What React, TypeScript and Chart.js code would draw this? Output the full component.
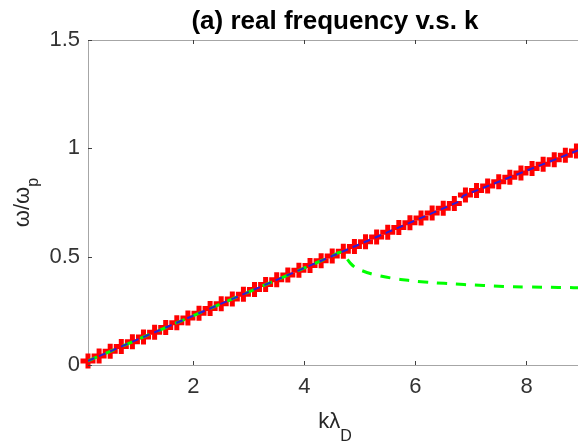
import React, { useEffect, useRef } from "react";
import { Chart, registerables } from "chart.js";

Chart.register(...registerables);

const FONT = '"Liberation Sans", Arial, sans-serif';

const titleText = "(a) real frequency v.s. k";
const xTicks = [2, 4, 6, 8];
const yTicks = [0, 0.5, 1, 1.5];
const xMin = 0.1;
const xMax = 9;
const yMin = 0;
const yMax = 1.5;

// red "+" markers (simulation)
const kRed = [
  0.1, 0.3, 0.5, 0.7, 0.9, 1.1, 1.3, 1.5, 1.7, 1.9, 2.1, 2.3, 2.5, 2.7, 2.9,
  3.1, 3.3, 3.5, 3.7, 3.9, 4.1, 4.3, 4.5, 4.7, 4.9, 5.1, 5.3, 5.5, 5.7, 5.9,
  6.1, 6.3, 6.5, 6.7, 6.9, 7.1, 7.3, 7.5, 7.7, 7.9, 8.1, 8.3, 8.5, 8.7, 8.9,
];
const wRed = [
  0.019, 0.041, 0.063, 0.085, 0.107, 0.129, 0.151, 0.173, 0.195, 0.217, 0.239,
  0.261, 0.283, 0.305, 0.327, 0.349, 0.371, 0.393, 0.415, 0.437, 0.459, 0.481,
  0.503, 0.525, 0.547, 0.569, 0.591, 0.613, 0.635, 0.657, 0.679, 0.701, 0.723,
  0.745, 0.785, 0.805, 0.826, 0.846, 0.866, 0.886, 0.907, 0.927, 0.947, 0.968,
  0.988,
];

// blue dashed line (theory)
const kBlue = [
  0.1, 0.5, 1, 1.5, 2, 2.5, 3, 3.5, 4, 4.5, 5, 5.5, 6, 6.5, 6.78, 6.86, 7.5, 8,
  8.5, 9,
];
const wBlue = [
  0.019, 0.063, 0.118, 0.173, 0.228, 0.283, 0.338, 0.393, 0.448, 0.503, 0.558,
  0.613, 0.668, 0.723, 0.754, 0.781, 0.846, 0.897, 0.947, 0.998,
];

// green dashed line (branch)
const kGreen = [
  0.1, 0.5, 1, 1.5, 2, 2.5, 3, 3.5, 4, 4.5, 4.65, 4.75, 4.83, 4.92, 5.04, 5.2,
  5.37, 5.55, 5.73, 6.0, 6.33, 6.7, 7.05, 7.4, 7.77, 8.3, 8.85, 9.0,
];
const wGreen = [
  0.019, 0.063, 0.118, 0.173, 0.228, 0.283, 0.338, 0.393, 0.448, 0.503, 0.52,
  0.495, 0.469, 0.449, 0.435, 0.421, 0.411, 0.402, 0.395, 0.387, 0.38, 0.374,
  0.369, 0.365, 0.361, 0.359, 0.357, 0.356,
];

const pts = (xs: number[], ys: number[]) => xs.map((x, i) => ({ x, y: ys[i] }));

const decor = {
  id: "decor",
  afterDraw(chart: any) {
    const { ctx, chartArea } = chart;
    const { left, right, top, bottom } = chartArea;
    const xs = chart.scales.x;
    const ys = chart.scales.y;
    ctx.save();
    // top & right box lines
    ctx.strokeStyle = "#a6a6a6";
    ctx.lineWidth = 1;
    ctx.beginPath();
    ctx.moveTo(left, Math.round(top) + 0.5);
    ctx.lineTo(right, Math.round(top) + 0.5);
    ctx.moveTo(Math.round(right) + 0.5, top);
    ctx.lineTo(Math.round(right) + 0.5, bottom);
    ctx.stroke();
    // inward tick marks
    const tl = 4;
    ctx.strokeStyle = "#404040";
    ctx.beginPath();
    xTicks.forEach((v) => {
      const px = Math.round(xs.getPixelForValue(v)) + 0.5;
      ctx.moveTo(px, bottom);
      ctx.lineTo(px, bottom - tl);
      ctx.moveTo(px, top);
      ctx.lineTo(px, top + tl);
    });
    yTicks.forEach((v) => {
      const py = Math.round(ys.getPixelForValue(v)) + 0.5;
      ctx.moveTo(left, py);
      ctx.lineTo(left + tl, py);
      ctx.moveTo(right, py);
      ctx.lineTo(right - tl, py);
    });
    ctx.stroke();

    // title
    const cx = (left + right) / 2;
    ctx.fillStyle = "#000";
    ctx.font = `bold 26px ${FONT}`;
    ctx.textAlign = "center";
    ctx.textBaseline = "alphabetic";
    ctx.fillText(titleText, cx, 29);

    // x label: k λ_D
    ctx.fillStyle = "#262626";
    const mainFont = `22px ${FONT}`;
    const subFont = `16px ${FONT}`;
    ctx.textAlign = "left";
    ctx.font = mainFont;
    const xl = "kλ";
    const wMain = ctx.measureText(xl).width;
    ctx.font = subFont;
    const wSub = ctx.measureText("D").width;
    let x0 = cx - (wMain + wSub) / 2;
    ctx.font = mainFont;
    ctx.fillText(xl, x0, 428);
    ctx.font = subFont;
    ctx.fillText("D", x0 + wMain, 441);

    // y label: ω/ω_p rotated
    const cy = (top + bottom) / 2;
    ctx.translate(29, cy);
    ctx.rotate(-Math.PI / 2);
    ctx.font = mainFont;
    const yl = "ω/ω";
    const wm2 = ctx.measureText(yl).width;
    ctx.font = subFont;
    const ws2 = ctx.measureText("p").width;
    const y0 = -(wm2 + ws2) / 2;
    ctx.font = mainFont;
    ctx.fillText(yl, y0, 0);
    ctx.font = subFont;
    ctx.fillText("p", y0 + wm2, 9);
    ctx.restore();
  },
};

export default function App() {
  const ref = useRef<HTMLCanvasElement | null>(null);
  useEffect(() => {
    if (!ref.current) return;
    const chart = new Chart(ref.current, {
      type: "line",
      data: {
        datasets: [
          {
            label: "theory",
            data: pts(kBlue, wBlue),
            borderColor: "#2b1fd6",
            borderWidth: 2,
            borderDash: [7, 5],
            pointRadius: 0,
            fill: false,
            tension: 0,
          },
          {
            label: "branch",
            data: pts(kGreen, wGreen),
            borderColor: "#00ff00",
            borderWidth: 3,
            borderDash: [10, 9],
            pointRadius: 0,
            fill: false,
            tension: 0.3,
          },
          {
            label: "simulation",
            data: pts(kRed, wRed),
            showLine: false,
            borderColor: "#ff0000",
            backgroundColor: "#ff0000",
            pointStyle: "cross",
            pointRadius: 7.5,
            pointBorderWidth: 5,
            pointBorderColor: "#ff0000",
            clip: false,
          },
        ],
      },
      options: {
        responsive: false,
        animation: false,
        devicePixelRatio: 1,
        layout: { padding: { top: 40, right: 18, left: 0, bottom: 0 } },
        plugins: {
          legend: { display: false },
          tooltip: { enabled: false },
          title: { display: false },
        },
        scales: {
          x: {
            type: "linear",
            min: xMin,
            max: xMax,
            afterBuildTicks: (s: any) => {
              s.ticks = xTicks.map((v) => ({ value: v }));
            },
            afterFit: (s: any) => {
              s.height = 79;
            },
            grid: { display: false, drawTicks: false },
            border: { display: true, color: "#a6a6a6", width: 1 },
            ticks: {
              font: { family: FONT, size: 22 },
              color: "#333333",
              padding: 9,
              maxRotation: 0,
              autoSkip: false,
              callback: (v: any) => String(v),
            },
          },
          y: {
            type: "linear",
            min: yMin,
            max: yMax,
            afterBuildTicks: (s: any) => {
              s.ticks = yTicks.map((v) => ({ value: v }));
            },
            afterFit: (s: any) => {
              s.width = 88;
            },
            grid: { display: false, drawTicks: false },
            border: { display: true, color: "#a6a6a6", width: 1 },
            ticks: {
              font: { family: FONT, size: 22 },
              color: "#333333",
              padding: 8,
              autoSkip: false,
              callback: (v: any) => String(v),
            },
          },
        },
      },
      plugins: [decor],
    });
    return () => chart.destroy();
  }, []);
  return (
    <div
      style={{
        position: "fixed",
        left: 0,
        top: 0,
        width: 578,
        height: 444,
        overflow: "hidden",
        background: "#fff",
      }}
    >
      <canvas ref={ref} width={600} height={444} style={{ display: "block" }} />
    </div>
  );
}
